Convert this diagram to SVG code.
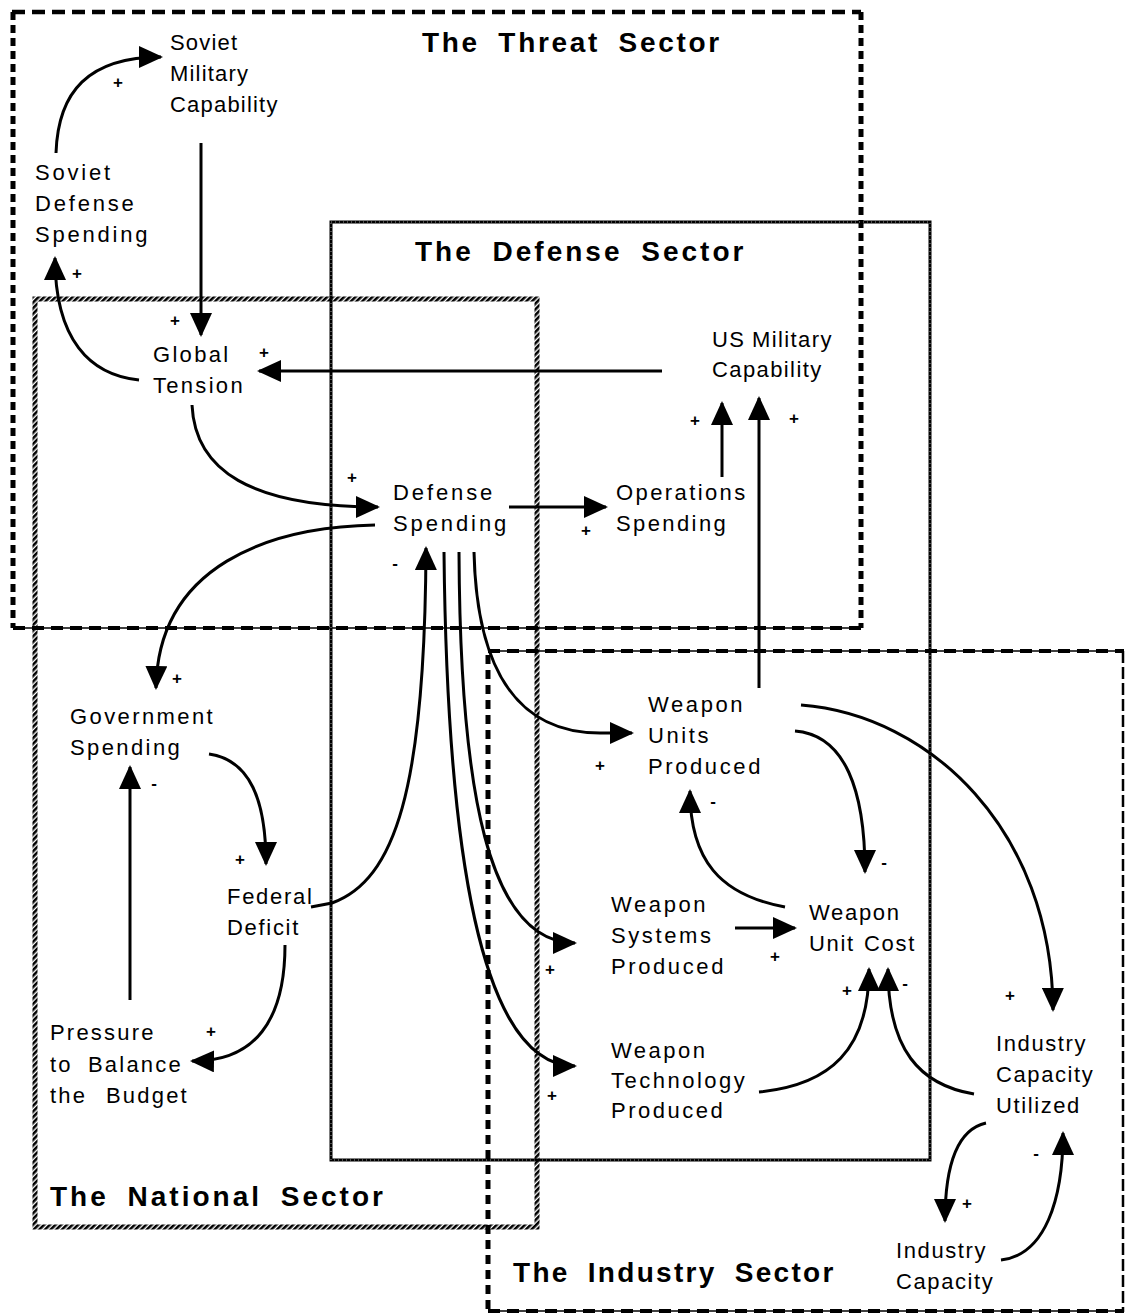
<svg xmlns="http://www.w3.org/2000/svg" width="1126" height="1315" viewBox="0 0 1126 1315">
<defs>
<marker id="ah" markerUnits="userSpaceOnUse" markerWidth="24" markerHeight="22" refX="22" refY="11" orient="auto">
<path d="M0,0 L24,11 L0,22 z" fill="#000"/>
</marker>
<pattern id="hatch" patternUnits="userSpaceOnUse" width="4" height="4" patternTransform="rotate(45)">
<rect x="0" y="0" width="2.6" height="4" fill="#000"/>
</pattern>
<style>
.n{font-family:"Liberation Sans",Arial,sans-serif;font-size:22px;fill:#000}
.t{font-family:"Liberation Sans",Arial,sans-serif;font-size:28px;font-weight:bold;letter-spacing:3px;word-spacing:8px;fill:#000}
.s{font-family:"Liberation Sans",Arial,sans-serif;font-size:17px;font-weight:bold;fill:#000;text-anchor:middle}
.c{fill:none;stroke:#000;stroke-width:3;stroke-linecap:butt}
.a{marker-end:url(#ah)}
.thin{fill:none;stroke:#000;stroke-width:1.5}
</style>
</defs>
<rect width="1126" height="1315" fill="#fff"/>

<g id="sectors">
<g id="threat-sector">
<path d="M12,12 L861,12" fill="none" stroke="#000" stroke-width="4.5" stroke-dasharray="13 7"/>
<path d="M13,12 L13,628" fill="none" stroke="#000" stroke-width="5" stroke-dasharray="8 5"/>
<path d="M861,12 L861,628" fill="none" stroke="#000" stroke-width="5" stroke-dasharray="8 5"/>
<path class="thin" d="M13,628 L861,628"/>
<path d="M13,628 L861,628" fill="none" stroke="#000" stroke-width="4" stroke-dasharray="12 7"/>
<text class="t" x="422" y="52" style="letter-spacing:2.7px">The Threat Sector</text>
</g>
<g id="defense-sector">
<rect x="331" y="222" width="599" height="938" fill="none" stroke="#000" stroke-width="3"/>
<rect x="331" y="222" width="599" height="938" fill="none" stroke="#fff" stroke-width="1" stroke-dasharray="1 3" opacity="0.6"/>
<text class="t" x="415" y="261">The Defense Sector</text>
</g>
<g id="national-sector">
<rect x="35" y="299" width="502" height="928" fill="none" stroke="url(#hatch)" stroke-width="5"/>
<text class="t" x="50" y="1206">The National Sector</text>
</g>
<g id="industry-sector">
<path class="thin" d="M488,651 L1124,651"/>
<path d="M488,651 L1124,651" fill="none" stroke="#000" stroke-width="4" stroke-dasharray="12 7"/>
<path d="M488,655 L488,1312" fill="none" stroke="#000" stroke-width="5" stroke-dasharray="9 6"/>
<path d="M1123,651 L1123,1312" fill="none" stroke="#000" stroke-width="2.5" stroke-dasharray="12 4"/>
<path class="thin" d="M488,1311 L1124,1311"/>
<path d="M488,1311 L1124,1311" fill="none" stroke="#000" stroke-width="4" stroke-dasharray="12 7"/>
<text class="t" x="513" y="1282" style="letter-spacing:2.3px">The Industry Sector</text>
</g>
</g>

<g id="connectors">
<path class="c a" d="M56,153 C58,92 88,57 161,57"/>
<path class="c a" d="M201,143 L201,335"/>
<path class="c a" d="M139,380 C90,375 55,340 55,258"/>
<path class="c a" d="M662,371 L259,371"/>
<path class="c a" d="M192,405 C195,470 250,507 378,507"/>
<path class="c a" d="M509,507 L606,507"/>
<path class="c a" d="M722,477 L722,403"/>
<path class="c a" d="M759,688 L759,398"/>
<path class="c a" d="M375,525 C270,527 158,565 156,688"/>
<path class="c a" d="M209,754 C250,760 266,800 266,864"/>
<path class="c a" d="M311,907 L332,903 C395,880 425,790 426,548"/>
<path class="c a" d="M285,945 C285,1020 255,1062 192,1061"/>
<path class="c a" d="M130,1000 L130,767"/>
<path class="c a" d="M474,552 C476,640 500,733 600,733 L632,733"/>
<path class="c a" d="M459,552 C460,790 488,943 575,943"/>
<path class="c a" d="M444,552 C447,850 480,1066 575,1066"/>
<path class="c a" d="M795,731 C845,735 865,790 865,872"/>
<path class="c a" d="M801,705 C930,715 1052,830 1053,1010"/>
<path class="c a" d="M785,907 C720,895 690,860 690,791"/>
<path class="c a" d="M735,928 L795,928"/>
<path class="c a" d="M759,1092 C830,1085 869,1050 869,969"/>
<path class="c a" d="M974,1094 C920,1085 888,1050 888,969"/>
<path class="c a" d="M986,1123 C955,1130 945,1170 945,1221"/>
<path class="c a" d="M1001,1260 C1045,1255 1063,1200 1063,1133"/>
</g>

<g id="polarities">
<text class="s" x="118" y="88">+</text>
<text class="s" x="175" y="326">+</text>
<text class="s" x="77" y="279">+</text>
<text class="s" x="264" y="358">+</text>
<text class="s" x="352" y="483">+</text>
<text class="s" x="586" y="536">+</text>
<text class="s" x="695" y="426">+</text>
<text class="s" x="794" y="424">+</text>
<text class="s" x="395" y="569">-</text>
<text class="s" x="177" y="684">+</text>
<text class="s" x="240" y="865">+</text>
<text class="s" x="211" y="1037">+</text>
<text class="s" x="154" y="789">-</text>
<text class="s" x="600" y="771">+</text>
<text class="s" x="550" y="975">+</text>
<text class="s" x="552" y="1101">+</text>
<text class="s" x="884" y="868">-</text>
<text class="s" x="1010" y="1001">+</text>
<text class="s" x="713" y="807">-</text>
<text class="s" x="775" y="962">+</text>
<text class="s" x="847" y="996">+</text>
<text class="s" x="905" y="989">-</text>
<text class="s" x="967" y="1209">+</text>
<text class="s" x="1036" y="1159">-</text>
</g>

<g id="soviet-military-capability"><text class="n" style="letter-spacing:1.2px"><tspan x="170" y="50">Soviet</tspan><tspan x="170" y="81">Military</tspan><tspan x="170" y="112">Capability</tspan></text></g>
<g id="soviet-defense-spending"><text class="n" style="letter-spacing:2.8px"><tspan x="35" y="180">Soviet</tspan><tspan x="35" y="211">Defense</tspan><tspan x="35" y="242">Spending</tspan></text></g>
<g id="global-tension"><text class="n" style="letter-spacing:2.3px"><tspan x="153" y="362">Global</tspan><tspan x="153" y="393">Tension</tspan></text></g>
<g id="us-military-capability"><text class="n" style="letter-spacing:1.4px"><tspan x="712" y="347">US</tspan><tspan x="752" y="347">Military</tspan><tspan x="712" y="377">Capability</tspan></text></g>
<g id="defense-spending"><text class="n" style="letter-spacing:2.9px"><tspan x="393" y="500">Defense</tspan><tspan x="393" y="531">Spending</tspan></text></g>
<g id="operations-spending"><text class="n" style="letter-spacing:2.4px"><tspan x="616" y="500">Operations</tspan><tspan x="616" y="531">Spending</tspan></text></g>
<g id="government-spending"><text class="n" style="letter-spacing:2.4px"><tspan x="70" y="724">Government</tspan><tspan x="70" y="755">Spending</tspan></text></g>
<g id="federal-deficit"><text class="n" style="letter-spacing:1.7px"><tspan x="227" y="904">Federal</tspan><tspan x="227" y="935">Deficit</tspan></text></g>
<g id="pressure-to-balance"><text class="n" style="letter-spacing:2.2px"><tspan x="50" y="1040">Pressure</tspan><tspan x="50" y="1072">to</tspan><tspan x="88" y="1072">Balance</tspan><tspan x="50" y="1103">the</tspan><tspan x="106" y="1103">Budget</tspan></text></g>
<g id="weapon-units-produced"><text class="n" style="letter-spacing:2.6px"><tspan x="648" y="712">Weapon</tspan><tspan x="648" y="743">Units</tspan><tspan x="648" y="774">Produced</tspan></text></g>
<g id="weapon-systems-produced"><text class="n" style="letter-spacing:2.6px"><tspan x="611" y="912">Weapon</tspan><tspan x="611" y="943">Systems</tspan><tspan x="611" y="974">Produced</tspan></text></g>
<g id="weapon-unit-cost"><text class="n" style="letter-spacing:1.7px"><tspan x="809" y="920">Weapon</tspan><tspan x="809" y="951">Unit</tspan><tspan x="864" y="951">Cost</tspan></text></g>
<g id="weapon-technology-produced"><text class="n" style="letter-spacing:2.5px"><tspan x="611" y="1058">Weapon</tspan><tspan x="611" y="1088">Technology</tspan><tspan x="611" y="1118">Produced</tspan></text></g>
<g id="industry-capacity-utilized"><text class="n" style="letter-spacing:1.6px"><tspan x="996" y="1051">Industry</tspan><tspan x="996" y="1082">Capacity</tspan><tspan x="996" y="1113">Utilized</tspan></text></g>
<g id="industry-capacity"><text class="n" style="letter-spacing:1.6px"><tspan x="896" y="1258">Industry</tspan><tspan x="896" y="1289">Capacity</tspan></text></g>
</svg>
